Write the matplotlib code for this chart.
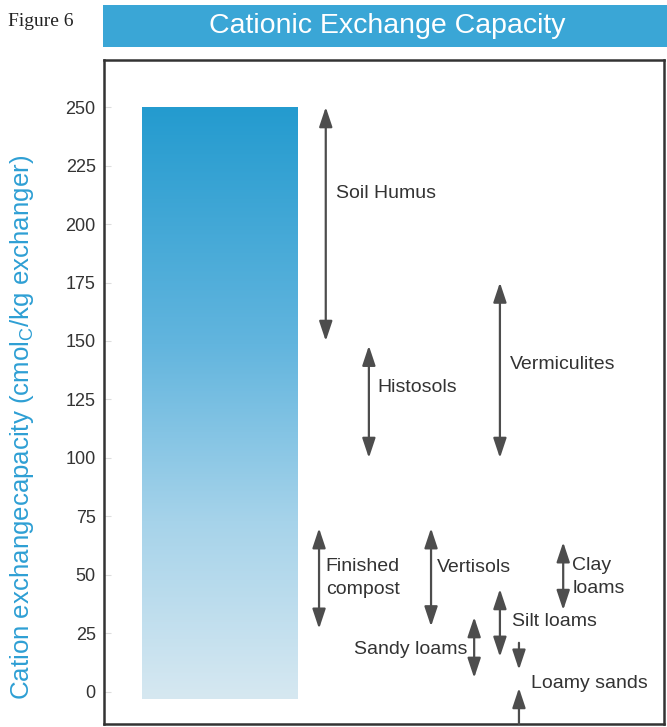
import numpy as np
import matplotlib
matplotlib.use("Agg")
import matplotlib.pyplot as plt
from matplotlib.colors import LinearSegmentedColormap
from matplotlib.patches import Rectangle

plt.rcParams["font.family"] = ["Liberation Sans", "DejaVu Sans"]
plt.rcParams["mathtext.default"] = "regular"

# CEC ranges (cmolc/kg exchanger)
materials = ["Soil Humus", "Histosols", "Vermiculites", "Finished\ncompost", "Vertisols",
             "Clay\nloams", "Silt loams", "Sandy loams"]
cec_low = [150, 100, 100, 27, 28, 35, 15, 6]
cec_high = [250, 148, 175, 70, 70, 64, 44, 32]
loamy_sands_down = (21, 9.5)
loamy_sands_up = (-13.7, 1.7)
y_ticks = [0, 25, 50, 75, 100, 125, 150, 175, 200, 225, 250]
bar_top = 250
bar_bottom = -3

# layout: arrow x (axes fraction), label x, label y, alignment
arrow_x = [0.396, 0.473, 0.707, 0.384, 0.584, 0.820, 0.707, 0.661]
label_x = [0.414, 0.4875, 0.725, 0.396, 0.595, 0.836, 0.729, 0.648]
label_y = [213, 130, 140, 48.7, 53, 49, 30, 18]
label_ha = ["left"] * 7 + ["right"]

arrow_color = "#4d4d4d"
text_color = "#333333"
blue = "#2e9fd4"

fig = plt.figure(figsize=(6.67, 7.27), dpi=100)
ax = fig.add_axes([104 / 667, 1 - 724 / 727, 560 / 667, 664 / 727])
ax.set_xlim(0, 1)
ax.set_ylim(-13.7, 270.1)

# gradient bar
cmap = LinearSegmentedColormap.from_list(
    "cec", [(0.0, "#d6e8f1"), (0.3, "#a6d3ea"), (0.6, "#62b5de"), (1.0, "#249bcf")])
grad = np.linspace(0, 1, 256).reshape(-1, 1)
ax.imshow(grad, extent=(0.068, 0.346, bar_bottom, bar_top), origin="lower",
          cmap=cmap, aspect="auto", interpolation="bicubic", zorder=1)


def double_arrow(x, lo, hi):
    ax.annotate("", xy=(x, hi), xytext=(x, lo), xycoords="data",
                arrowprops=dict(arrowstyle="<|-|>,head_length=0.6,head_width=0.2",
                                color=arrow_color, lw=1.6, mutation_scale=20,
                                shrinkA=0, shrinkB=0), zorder=3)


def single_arrow(x, start, end):
    ax.annotate("", xy=(x, end), xytext=(x, start), xycoords="data",
                arrowprops=dict(arrowstyle="-|>,head_length=0.6,head_width=0.2",
                                color=arrow_color, lw=1.6, mutation_scale=20,
                                shrinkA=0, shrinkB=0), zorder=3, annotation_clip=False)


for name, lo, hi, ax_x, lx, ly, ha in zip(materials, cec_low, cec_high, arrow_x,
                                          label_x, label_y, label_ha):
    double_arrow(ax_x, lo, hi)
    ax.text(lx, ly, name, ha=ha, va="center", fontsize=14, color=text_color,
            linespacing=1.45)

single_arrow(0.741, *loamy_sands_down)
single_arrow(0.741, *loamy_sands_up)
ax.text(0.7625, 3.8, "Loamy sands", ha="left", va="center", fontsize=14, color=text_color)

ax.set_xticks([])
ax.set_yticks(y_ticks)
ax.set_yticklabels([str(v) for v in y_ticks], fontsize=13, color=text_color)
ax.tick_params(axis="y", direction="in", length=5, width=0.8, color="#dddddd", pad=6)
for spine in ax.spines.values():
    spine.set_color("#333333")
    spine.set_linewidth(1.8)

fig.text(22 / 667, 1 - 427 / 727,
         "Cation exchangecapacity (cmol$_{C}$/kg exchanger)",
         rotation=90, ha="center", va="center", fontsize=18.6, color=blue)

# title banner
fig.patches.append(Rectangle((103 / 667, 1 - 47 / 727), 564 / 667, 42 / 727,
                             transform=fig.transFigure, facecolor="#3aa6d6",
                             edgecolor="none"))
fig.text(387 / 667, 1 - 26 / 727, "Cationic Exchange Capacity", ha="center",
         va="center", fontsize=20.5, color="white")
fig.text(8 / 667, 1 - 21 / 727, "Figure 6", ha="left", va="center", fontsize=14,
         color="#222222", family=["Liberation Serif", "DejaVu Serif"])

fig.savefig("out.png", dpi=100, facecolor="white")
